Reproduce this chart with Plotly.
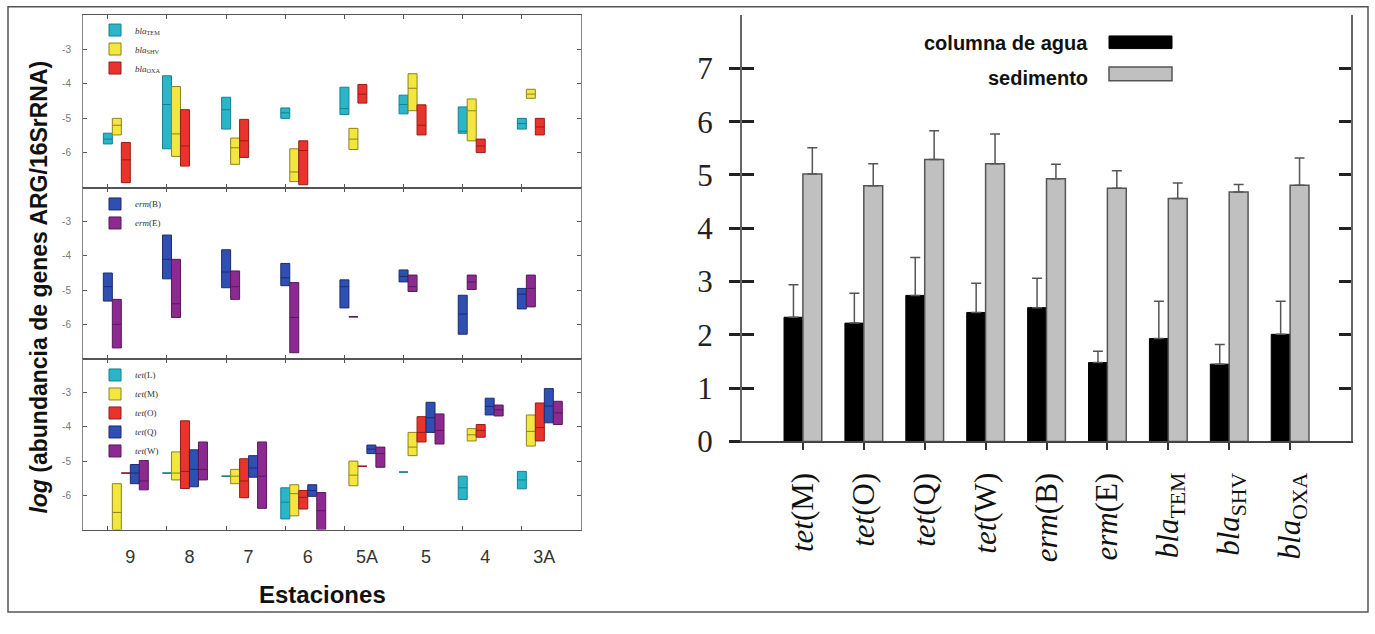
import plotly.graph_objects as go

W, H = 1375, 634

# ---------------- data: left panels (log abundance ranges per station) ----------------
stations = ["9", "8", "7", "6", "5A", "5", "4", "3A"]

# top panel: bla genes
bla_names = ["<i>bla</i><sub>TEM</sub>", "<i>bla</i><sub>SHV</sub>", "<i>bla</i><sub>OXA</sub>"]
bla_lo = [
    [-5.74, -5.88, -5.31, -5.00, -4.89, -4.87, -5.43, -5.31],
    [-5.48, -6.10, -6.33, -6.83, -5.90, -4.78, -5.65, -4.42],
    [-6.86, -6.38, -6.13, -6.92, -4.56, -5.48, -5.99, -5.48],
]
bla_med = [
    [-5.60, -4.60, -4.75, -4.84, -4.72, -4.60, -5.37, -5.15],
    [-5.20, -5.45, -5.85, -6.55, -5.60, -4.13, -4.78, -4.30],
    [-6.20, -5.80, -5.65, -5.93, -4.30, -5.20, -5.80, -5.25],
]
bla_hi = [
    [-5.43, -3.77, -4.39, -4.70, -4.10, -4.33, -4.67, -5.00],
    [-5.00, -4.08, -5.57, -5.88, -5.29, -3.71, -4.44, -4.16],
    [-5.70, -4.75, -5.03, -5.65, -4.02, -4.61, -5.60, -5.00],
]

# middle panel: erm genes
erm_names = ["<i>erm</i>(B)", "<i>erm</i>(E)"]
erm_lo = [
    [-5.32, -4.67, -4.93, -4.87, -5.52, -4.76, -6.29, -5.55],
    [-6.69, -5.80, -5.27, -6.83, -5.78, -5.04, -4.98, -5.49],
]
erm_med = [
    [-4.90, -4.10, -4.47, -4.64, -4.90, -4.60, -5.70, -5.12],
    [-6.00, -5.40, -4.90, -5.80, -5.78, -4.90, -4.76, -4.95],
]
erm_hi = [
    [-4.50, -3.39, -3.82, -4.22, -4.70, -4.41, -5.15, -4.95],
    [-5.27, -4.10, -4.44, -4.78, -5.78, -4.56, -4.56, -4.56],
]

# bottom panel: tet genes
tet_names = ["<i>tet</i>(L)", "<i>tet</i>(M)", "<i>tet</i>(O)", "<i>tet</i>(Q)", "<i>tet</i>(W)"]
tet_lo = [
    [None, -5.35, -5.44, -6.69, None, -5.32, -6.12, -5.81],
    [-7.00, -5.55, -5.66, -6.60, -5.72, -4.84, -4.41, -4.56],
    [-5.35, -5.80, -6.07, -6.40, -5.15, -4.44, -4.30, -4.41],
    [-5.66, -5.75, -5.47, -6.03, -4.78, -4.16, -3.65, -3.88],
    [-5.84, -5.55, -6.38, -7.00, -5.18, -4.50, -3.68, -3.93],
]
tet_med = [
    [None, -5.35, -5.44, -6.20, None, -5.32, -5.78, -5.55],
    [-6.50, -5.35, -5.44, -5.95, -5.41, -4.59, -4.23, -4.13],
    [-5.35, -5.30, -5.58, -6.06, -5.15, -4.16, -4.10, -4.02],
    [-5.35, -5.24, -5.20, -5.86, -4.65, -3.73, -3.40, -3.39],
    [-5.58, -5.24, -5.44, -6.45, -4.78, -4.10, -3.50, -3.59],
]
tet_hi = [
    [None, -5.35, -5.44, -5.78, None, -5.32, -5.44, -5.30],
    [-5.66, -4.73, -5.24, -5.69, -5.00, -4.16, -4.05, -3.65],
    [-5.35, -3.82, -4.93, -5.86, -5.15, -3.70, -3.93, -3.30],
    [-5.10, -4.67, -4.84, -5.69, -4.53, -3.28, -3.16, -2.88],
    [-4.98, -4.44, -4.44, -5.92, -4.59, -3.62, -3.36, -3.25],
]

# ---------------- data: right panel ----------------
genes = ["<i>tet</i>(M)", "<i>tet</i>(O)", "<i>tet</i>(Q)", "<i>tet</i>(W)", "<i>erm</i>(B)",
         "<i>erm</i>(E)", "<i>bla</i><sub>TEM</sub>", "<i>bla</i><sub>SHV</sub>", "<i>bla</i><sub>OXA</sub>"]
agua = [2.33, 2.22, 2.74, 2.42, 2.51, 1.48, 1.93, 1.45, 2.01]
agua_err = [0.61, 0.56, 0.71, 0.55, 0.55, 0.21, 0.70, 0.37, 0.62]
sedimento = [5.02, 4.80, 5.29, 5.21, 4.93, 4.75, 4.56, 4.68, 4.81]
sedimento_err = [0.49, 0.41, 0.54, 0.56, 0.27, 0.33, 0.29, 0.14, 0.51]

# ---------------- styling ----------------
CYAN = ("#2bb5c9", "#17808f")
YELLOW = ("#f3e63f", "#8c8420")
RED = ("#e8342c", "#961d17")
BLUE = ("#2f4fb3", "#1c2d6e")
PURPLE = ("#8d2a91", "#561a58")

SLOT = 0.152


def px(x):
    return x / W


def py(y):
    return 1 - y / H


fig = go.Figure()


def add_panel(names, lo, med, hi, colors, xa, ya, legend):
    for k, name in enumerate(names):
        xs, q1, md, q3 = [], [], [], []
        for i in range(len(stations)):
            if lo[k][i] is None:
                continue
            xs.append(i + k * SLOT)
            q1.append(lo[k][i])
            md.append(med[k][i])
            q3.append(hi[k][i])
        fill, line = colors[k]
        fig.add_trace(go.Box(
            x=xs, q1=q1, median=md, q3=q3, lowerfence=q1, upperfence=q3,
            width=SLOT, whiskerwidth=0, boxpoints=False,
            fillcolor=fill, line=dict(color=line, width=1),
            name=name, xaxis=xa, yaxis=ya, legend=legend,
        ))


add_panel(bla_names, bla_lo, bla_med, bla_hi, [CYAN, YELLOW, RED], "x", "y", "legend")
add_panel(erm_names, erm_lo, erm_med, erm_hi, [BLUE, PURPLE], "x2", "y2", "legend2")
add_panel(tet_names, tet_lo, tet_med, tet_hi, [CYAN, YELLOW, RED, BLUE, PURPLE], "x3", "y3", "legend3")

BW = 0.31
fig.add_trace(go.Bar(
    x=genes, y=agua, width=BW, offset=-BW, name="columna de agua",
    marker=dict(color="#000000", line=dict(color="#000000", width=1)),
    error_y=dict(type="data", symmetric=False, array=agua_err, arrayminus=[0] * len(agua),
                 color="#555555", thickness=1.5, width=5),
    xaxis="x4", yaxis="y4", showlegend=False,
))
fig.add_trace(go.Bar(
    x=genes, y=sedimento, width=BW, offset=0, name="sedimento",
    marker=dict(color="#c0c0c0", line=dict(color="#555555", width=1.5)),
    error_y=dict(type="data", symmetric=False, array=sedimento_err, arrayminus=[0] * len(sedimento),
                 color="#555555", thickness=1.5, width=5),
    xaxis="x4", yaxis="y5", showlegend=False,
))

LX = [px(83), px(581)]
XR = [-0.42, 8.0]
yticks = [-3, -4, -5, -6]
panel_y = [(15, 193), (193, 369), (369, 545)]

common_x = dict(domain=LX, range=XR, showgrid=False, zeroline=False, showline=True,
                linecolor="#555555", linewidth=1, mirror="ticks")
common_y = dict(range=[-7, -2], tickvals=yticks, ticktext=["-3", "-4", "-5", "-6"],
                ticks="inside", ticklen=4, tickcolor="#555555", showgrid=False, zeroline=False,
                showline=True, linecolor="#888888", linewidth=1, mirror="ticks",
                tickfont=dict(family="Liberation Sans", size=10, color="#777777"),
                ticklabelstandoff=9)

legend_common = dict(xanchor="left", yanchor="top", bgcolor="rgba(0,0,0,0)",
                     font=dict(family="Liberation Serif", size=9, color="#333333"), itemwidth=30,
                     tracegroupgap=0)

layout = dict(
    width=W, height=H, margin=dict(l=0, r=0, t=0, b=0),
    paper_bgcolor="white", plot_bgcolor="white",
    boxmode="overlay", barmode="overlay",
    xaxis=dict(**common_x, anchor="y", tickvals=list(range(8)), showticklabels=False,
               ticks="inside", ticklen=4, tickcolor="#555555"),
    xaxis2=dict(**common_x, anchor="y2", tickvals=list(range(8)), showticklabels=False,
                ticks="inside", ticklen=4, tickcolor="#555555"),
    xaxis3=dict(**common_x, anchor="y3", tickvals=[i + 0.38 for i in range(8)], ticktext=stations,
                ticks="", minor=dict(tickvals=list(range(8)), ticks="inside", ticklen=4, tickcolor="#555555"),
                tickfont=dict(family="Liberation Sans", size=18, color="#333333"), ticklabelstandoff=11),
    yaxis=dict(**common_y, domain=[py(panel_y[0][1]), py(panel_y[0][0])], anchor="x"),
    yaxis2=dict(**common_y, domain=[py(panel_y[1][1]), py(panel_y[1][0])], anchor="x2"),
    yaxis3=dict(**common_y, domain=[py(panel_y[2][1]), py(panel_y[2][0])], anchor="x3"),
    xaxis4=dict(domain=[px(742), px(1351)], anchor="y4", type="category", range=[-1, 9],
                ticks="outside", ticklen=7, tickwidth=2, tickcolor="#333333",
                showline=True, linecolor="#444444", linewidth=2, showgrid=False, zeroline=False,
                tickangle=-90, tickfont=dict(family="Liberation Serif", size=31, color="#111111"),
                ticklabelstandoff=10),
    yaxis4=dict(domain=[py(454.3), py(15.6)], anchor="x4", range=[0, 8], tickvals=list(range(8)),
                ticks="outside", ticklen=11, tickwidth=2.5, tickcolor="#222222",
                showline=True, linecolor="#666666", linewidth=2, mirror=True,
                showgrid=False, zeroline=False,
                tickfont=dict(family="Liberation Serif", size=31, color="#222222"),
                ticklabelstandoff=10),
    yaxis5=dict(overlaying="y4", anchor="x4", side="left", range=[0, 8], tickvals=list(range(8)),
                ticks="inside", ticklen=12, tickwidth=2.5, tickcolor="#222222", mirror="ticks",
                showline=False, showticklabels=False, showgrid=False, zeroline=False),
    legend=dict(**legend_common, x=px(95), y=py(16)),
    legend2=dict(**legend_common, x=px(95), y=py(195)),
    legend3=dict(**legend_common, x=px(95), y=py(371)),
    shapes=[
        dict(type="rect", xref="paper", yref="paper", x0=px(8), x1=px(1368), y0=py(630), y1=py(7),
             line=dict(color="#555555", width=1.5), fillcolor="rgba(0,0,0,0)", layer="below"),
        dict(type="rect", xref="paper", yref="paper", x0=px(1109), x1=px(1172), y0=py(50), y1=py(37),
             line=dict(color="#000000", width=1), fillcolor="#000000"),
        dict(type="rect", xref="paper", yref="paper", x0=px(1109), x1=px(1172), y0=py(83), y1=py(69),
             line=dict(color="#555555", width=1.5), fillcolor="#c0c0c0"),
    ],
    annotations=[
        dict(text="<b><i>log</i> (abundancia de genes ARG/16SrRNA)</b>", xref="paper", yref="paper",
             x=px(39), y=py(296), xanchor="center", yanchor="middle", textangle=-90, showarrow=False,
             font=dict(family="Liberation Sans", size=23, color="#111111")),
        dict(text="<b>Estaciones</b>", xref="paper", yref="paper", x=px(322), y=py(612),
             xanchor="center", yanchor="middle",
             showarrow=False, font=dict(family="Liberation Sans", size=24, color="#111111")),
        dict(text="<b>columna de agua</b>", xref="paper", yref="paper", x=px(1090), y=py(44),
             xanchor="right", yanchor="middle", showarrow=False,
             font=dict(family="Liberation Sans", size=20, color="#111111")),
        dict(text="<b>sedimento</b>", xref="paper", yref="paper", x=px(1090), y=py(80),
             xanchor="right", yanchor="middle", showarrow=False,
             font=dict(family="Liberation Sans", size=20, color="#111111")),
    ],
)

fig.update_layout(**layout)
fig.write_html("out.html",
               post_script="document.body.style.margin='0';document.documentElement.style.margin='0';")
